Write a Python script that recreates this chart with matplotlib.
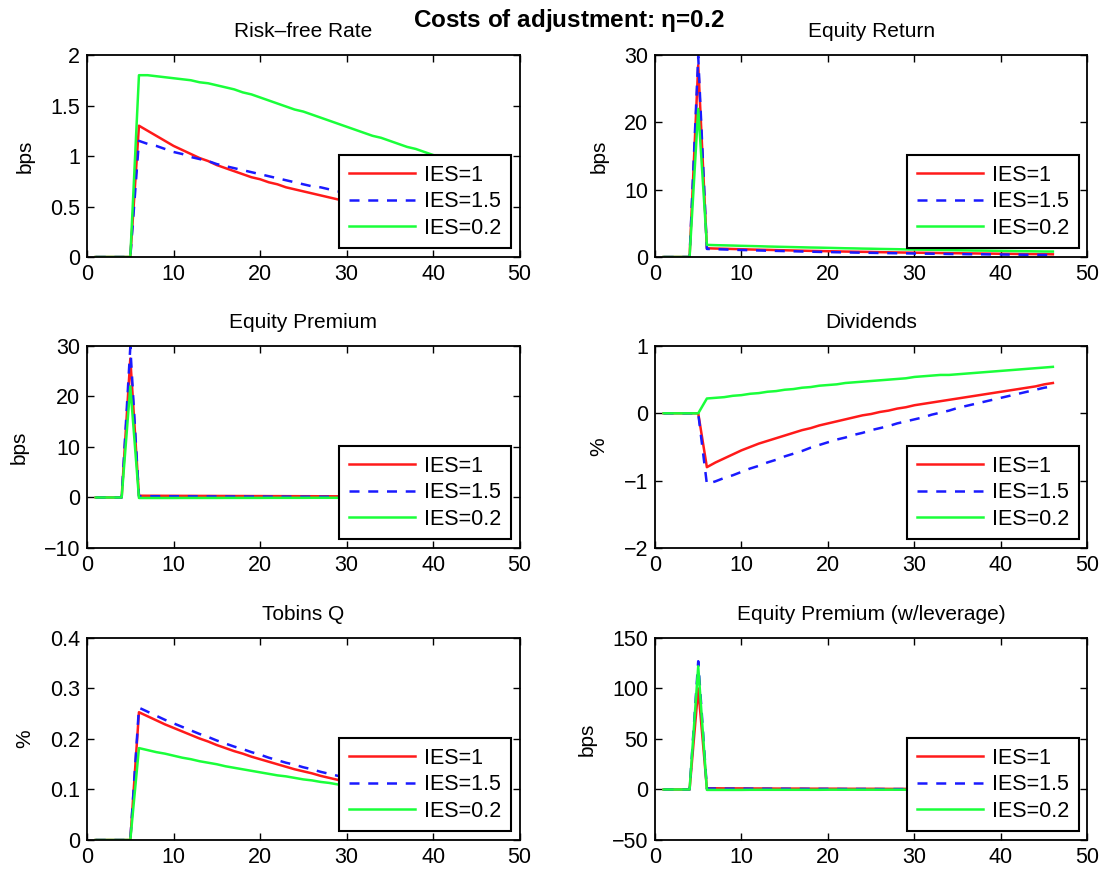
import matplotlib
matplotlib.use('Agg')
import matplotlib.pyplot as plt

plt.rcParams['font.family'] = ['Liberation Sans', 'DejaVu Sans']

# periods
t = list(range(1, 47))
labels = ['IES=1', 'IES=1.5', 'IES=0.2']

# Risk-free Rate (bps)
rf_ies1 = [0, 0, 0, 0, 0,
           1.30, 1.25, 1.20, 1.15, 1.10, 1.06, 1.02, 0.98, 0.95, 0.91,
           0.88, 0.85, 0.82, 0.79, 0.77, 0.74, 0.72, 0.69, 0.67, 0.65,
           0.63, 0.61, 0.59, 0.57, 0.55, 0.53, 0.51, 0.50, 0.48, 0.47,
           0.45, 0.44, 0.42, 0.41, 0.39, 0.38, 0.37, 0.36, 0.34, 0.33, 0.32]
rf_ies15 = [0, 0, 0, 0, 0,
            1.15, 1.12, 1.10, 1.07, 1.04, 1.02, 0.99, 0.97, 0.95, 0.92,
            0.90, 0.88, 0.86, 0.84, 0.82, 0.80, 0.78, 0.76, 0.74, 0.72,
            0.70, 0.69, 0.67, 0.65, 0.64, 0.62, 0.61, 0.59, 0.58, 0.56,
            0.55, 0.54, 0.52, 0.51, 0.50, 0.49, 0.47, 0.46, 0.45, 0.44, 0.43]
rf_ies02 = [0, 0, 0, 0, 0,
            1.80, 1.80, 1.79, 1.78, 1.77, 1.76, 1.75, 1.73, 1.72, 1.70,
            1.68, 1.66, 1.63, 1.61, 1.58, 1.55, 1.52, 1.49, 1.46, 1.44,
            1.41, 1.38, 1.35, 1.32, 1.29, 1.26, 1.23, 1.20, 1.18, 1.15,
            1.12, 1.09, 1.07, 1.04, 1.01, 0.99, 0.96, 0.94, 0.91, 0.89, 0.86]

# Equity Return (bps)
er_ies1 = [0, 0, 0, 0, 28.5,
           1.30, 1.26, 1.23, 1.19, 1.16, 1.12, 1.09, 1.06, 1.03, 1.00,
           0.97, 0.94, 0.91, 0.89, 0.86, 0.84, 0.81, 0.79, 0.77, 0.75,
           0.72, 0.70, 0.68, 0.66, 0.64, 0.63, 0.61, 0.59, 0.57, 0.56,
           0.54, 0.53, 0.51, 0.50, 0.48, 0.47, 0.45, 0.44, 0.43, 0.42, 0.40]
er_ies15 = [0, 0, 0, 0, 29.8,
            1.20, 1.16, 1.12, 1.08, 1.04, 1.01, 0.97, 0.94, 0.91, 0.88,
            0.85, 0.82, 0.79, 0.76, 0.74, 0.71, 0.69, 0.66, 0.64, 0.62,
            0.60, 0.58, 0.56, 0.54, 0.52, 0.50, 0.49, 0.47, 0.45, 0.44,
            0.42, 0.41, 0.40, 0.38, 0.37, 0.36, 0.35, 0.33, 0.32, 0.31, 0.30]
er_ies02 = [0, 0, 0, 0, 22.0,
            1.80, 1.76, 1.73, 1.70, 1.66, 1.63, 1.60, 1.56, 1.53, 1.50,
            1.47, 1.44, 1.41, 1.39, 1.36, 1.33, 1.30, 1.28, 1.25, 1.23,
            1.20, 1.18, 1.16, 1.13, 1.11, 1.09, 1.07, 1.05, 1.02, 1.00,
            0.98, 0.96, 0.95, 0.93, 0.91, 0.89, 0.87, 0.86, 0.84, 0.82, 0.81]

# Equity Premium (bps)
ep_ies1 = [0, 0, 0, 0, 27.5,
           0.35, 0.34, 0.34, 0.33, 0.33, 0.32, 0.32, 0.31, 0.31, 0.30,
           0.30, 0.29, 0.29, 0.28, 0.28, 0.27, 0.27, 0.26, 0.26, 0.25,
           0.25, 0.24, 0.24, 0.23, 0.23, 0.22, 0.22, 0.21, 0.21, 0.20,
           0.20, 0.19, 0.19, 0.18, 0.18, 0.17, 0.17, 0.16, 0.16, 0.15, 0.15]
ep_ies15 = [0, 0, 0, 0, 29.8,
            0.25, 0.24, 0.24, 0.23, 0.23, 0.22, 0.22, 0.21, 0.21, 0.20,
            0.20, 0.19, 0.19, 0.18, 0.18, 0.17, 0.17, 0.16, 0.16, 0.15,
            0.15, 0.14, 0.14, 0.13, 0.13, 0.12, 0.12, 0.11, 0.11, 0.10,
            0.10, 0.09, 0.09, 0.08, 0.08, 0.07, 0.07, 0.06, 0.06, 0.05, 0.05]
ep_ies02 = [0, 0, 0, 0, 22.0,
            -0.10, -0.10, -0.10, -0.10, -0.10, -0.09, -0.09, -0.09, -0.09, -0.09,
            -0.08, -0.08, -0.08, -0.08, -0.08, -0.07, -0.07, -0.07, -0.07, -0.07,
            -0.06, -0.06, -0.06, -0.06, -0.06, -0.05, -0.05, -0.05, -0.05, -0.05,
            -0.04, -0.04, -0.04, -0.04, -0.04, -0.03, -0.03, -0.03, -0.03, -0.03, -0.03]

# Dividends (%)
dv_ies1 = [0, 0, 0, 0, 0,
           -0.80, -0.73, -0.67, -0.61, -0.55, -0.50, -0.45, -0.41, -0.37, -0.33,
           -0.29, -0.25, -0.22, -0.18, -0.15, -0.12, -0.09, -0.06, -0.03, -0.01,
           0.02, 0.04, 0.07, 0.09, 0.12, 0.14, 0.16, 0.18, 0.20, 0.22,
           0.24, 0.26, 0.28, 0.30, 0.32, 0.34, 0.36, 0.38, 0.40, 0.43, 0.45]
dv_ies15 = [0, 0, 0, 0, 0,
            -1.05, -1.01, -0.96, -0.92, -0.87, -0.82, -0.78, -0.73, -0.69, -0.64,
            -0.60, -0.56, -0.51, -0.47, -0.43, -0.39, -0.36, -0.32, -0.29, -0.25,
            -0.22, -0.19, -0.15, -0.12, -0.09, -0.06, -0.02, 0.01, 0.04, 0.08,
            0.11, 0.14, 0.17, 0.20, 0.23, 0.26, 0.29, 0.32, 0.35, 0.38, 0.40]
dv_ies02 = [0, 0, 0, 0, 0,
            0.22, 0.23, 0.24, 0.26, 0.27, 0.29, 0.30, 0.32, 0.33, 0.35,
            0.36, 0.38, 0.39, 0.41, 0.42, 0.43, 0.45, 0.46, 0.47, 0.48,
            0.49, 0.50, 0.51, 0.52, 0.54, 0.55, 0.56, 0.57, 0.57, 0.58,
            0.59, 0.60, 0.61, 0.62, 0.63, 0.64, 0.65, 0.66, 0.67, 0.68, 0.69]

# Tobins Q (%)
q_ies1 = [0, 0, 0, 0, 0,
          0.253, 0.245, 0.237, 0.229, 0.222, 0.215, 0.208, 0.201, 0.195, 0.188,
          0.182, 0.176, 0.171, 0.165, 0.160, 0.155, 0.150, 0.145, 0.140, 0.136,
          0.132, 0.127, 0.123, 0.119, 0.115, 0.112, 0.108, 0.105, 0.101, 0.098,
          0.095, 0.092, 0.089, 0.086, 0.083, 0.081, 0.078, 0.076, 0.073, 0.071, 0.069]
q_ies15 = [0, 0, 0, 0, 0,
           0.262, 0.254, 0.246, 0.238, 0.231, 0.224, 0.217, 0.210, 0.204, 0.197,
           0.191, 0.185, 0.180, 0.174, 0.169, 0.163, 0.158, 0.153, 0.149, 0.144,
           0.140, 0.135, 0.131, 0.127, 0.123, 0.119, 0.116, 0.112, 0.109, 0.105,
           0.102, 0.099, 0.096, 0.093, 0.090, 0.087, 0.084, 0.082, 0.079, 0.077, 0.074]
q_ies02 = [0, 0, 0, 0, 0,
           0.182, 0.178, 0.174, 0.171, 0.167, 0.163, 0.160, 0.156, 0.153, 0.150,
           0.146, 0.143, 0.140, 0.137, 0.134, 0.131, 0.128, 0.126, 0.123, 0.120,
           0.118, 0.115, 0.113, 0.110, 0.108, 0.105, 0.103, 0.101, 0.099, 0.096,
           0.094, 0.092, 0.090, 0.088, 0.086, 0.084, 0.083, 0.081, 0.079, 0.077, 0.076]

# Equity Premium with leverage (bps)
epl_ies1 = [0, 0, 0, 0, 100.0,
            1.2, 1.2, 1.1, 1.1, 1.1, 1.0, 1.0, 1.0, 0.9, 0.9,
            0.9, 0.9, 0.8, 0.8, 0.8, 0.8, 0.7, 0.7, 0.7, 0.7,
            0.7, 0.6, 0.6, 0.6, 0.6, 0.6, 0.5, 0.5, 0.5, 0.5,
            0.5, 0.5, 0.4, 0.4, 0.4, 0.4, 0.4, 0.4, 0.4, 0.3, 0.3]
epl_ies15 = [0, 0, 0, 0, 127.0,
             0.9, 0.9, 0.8, 0.8, 0.8, 0.8, 0.7, 0.7, 0.7, 0.7,
             0.6, 0.6, 0.6, 0.6, 0.6, 0.5, 0.5, 0.5, 0.5, 0.5,
             0.4, 0.4, 0.4, 0.4, 0.4, 0.4, 0.3, 0.3, 0.3, 0.3,
             0.3, 0.3, 0.3, 0.2, 0.2, 0.2, 0.2, 0.2, 0.2, 0.2, 0.2]
epl_ies02 = [0, 0, 0, 0, 122.0,
             -0.4, -0.4, -0.4, -0.4, -0.4, -0.3, -0.3, -0.3, -0.3, -0.3,
             -0.3, -0.3, -0.3, -0.3, -0.2, -0.2, -0.2, -0.2, -0.2, -0.2,
             -0.2, -0.2, -0.2, -0.2, -0.2, -0.1, -0.1, -0.1, -0.1, -0.1,
             -0.1, -0.1, -0.1, -0.1, -0.1, -0.1, -0.1, -0.1, -0.1, -0.1, -0.1]

panels = [
    ('Risk\u2013free Rate', 'bps', (rf_ies1, rf_ies15, rf_ies02), (0, 2), [0, 0.5, 1, 1.5, 2]),
    ('Equity Return', 'bps', (er_ies1, er_ies15, er_ies02), (0, 30), [0, 10, 20, 30]),
    ('Equity Premium', 'bps', (ep_ies1, ep_ies15, ep_ies02), (-10, 30), [-10, 0, 10, 20, 30]),
    ('Dividends', '%', (dv_ies1, dv_ies15, dv_ies02), (-2, 1), [-2, -1, 0, 1]),
    ('Tobins Q', '%', (q_ies1, q_ies15, q_ies02), (0, 0.4), [0, 0.1, 0.2, 0.3, 0.4]),
    ('Equity Premium (w/leverage)', 'bps', (epl_ies1, epl_ies15, epl_ies02), (-50, 150), [-50, 0, 50, 100, 150]),
]

fig = plt.figure(figsize=(11.09, 8.73), dpi=100)
lefts = [0.0785, 0.5906]
bottoms = [0.7056, 0.3723, 0.0378]

for i, (title, ylab, series, ylim, yticks) in enumerate(panels):
    ax = fig.add_axes([lefts[i % 2], bottoms[i // 2], 0.390, 0.2314])
    red, blue, green = series
    ax.plot(t, red, color='#ff1a1a', lw=1.8, label=labels[0])
    ax.plot(t, blue, color='#1a1aff', lw=1.8, ls=(0, (4, 3.5)), label=labels[1])
    ax.plot(t, green, color='#1aff3a', lw=1.8, label=labels[2])
    ax.set_xlim(0, 50)
    ax.set_ylim(*ylim)
    ax.set_xticks([0, 10, 20, 30, 40, 50])
    ax.set_yticks(yticks)
    ax.set_yticklabels([('%g' % v).replace('-', '\u2212') for v in yticks])
    ax.tick_params(direction='in', top=True, right=True, length=5, width=1.0,
                   labelsize=15.5, pad=5)
    for s in ax.spines.values():
        s.set_linewidth(1.3)
    ax.set_title(title, fontsize=15, pad=13)
    ax.set_ylabel(ylab, fontsize=15, labelpad=11)
    leg = ax.legend(loc='lower right', fontsize=15.5, fancybox=False, framealpha=1,
                    edgecolor='black', handlelength=3.1, handletextpad=0.4,
                    borderaxespad=0.4, labelspacing=0.25, borderpad=0.45)
    leg.get_frame().set_linewidth(1.5)

fig.text(0.513, 0.977, 'Costs of adjustment: $\\mathregular{\\eta}$=0.2', ha='center', va='center',
         fontsize=17.5, fontweight='bold')

fig.savefig('out.png', dpi=100)
